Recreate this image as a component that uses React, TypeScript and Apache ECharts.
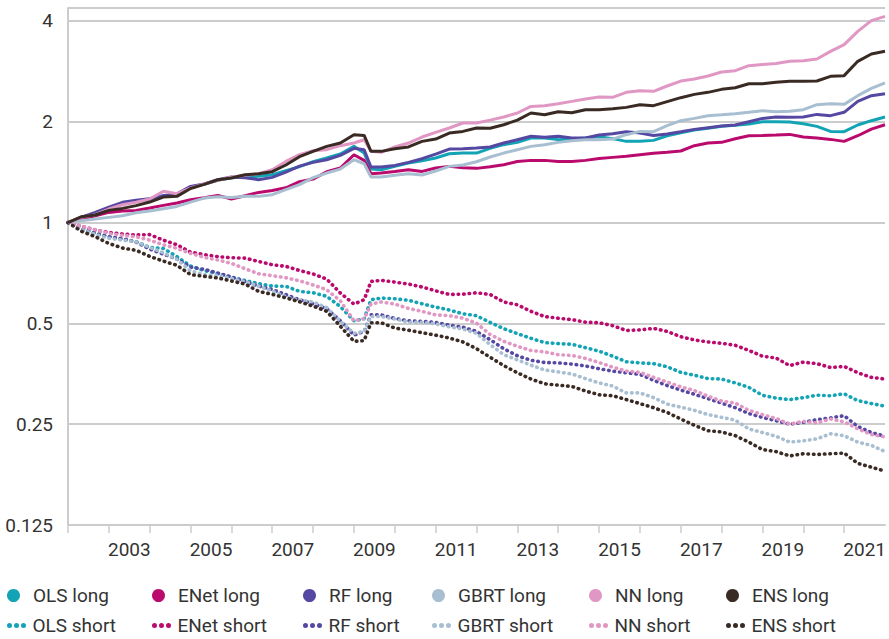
import React, { useEffect, useRef } from "react";
import * as echarts from "echarts";

// Months since Jan 2002 (shared time grid)
const months = [
  0, 4, 8, 12, 16, 20, 24, 28, 32, 36, 40, 44, 48, 52, 56, 60, 64, 68, 72, 76, 80, 84, 87, 89,
  92, 96, 100, 104, 108, 112, 116, 120, 124, 128, 132, 136, 140, 144, 148, 152, 156, 160, 164,
  168, 172, 176, 180, 184, 188, 192, 196, 200, 204, 208, 212, 216, 220, 224, 228, 232, 236, 240,
];

const olsLong = [
  1.0, 1.034, 1.062, 1.102, 1.135, 1.157, 1.175, 1.202, 1.213, 1.276, 1.3, 1.336, 1.361, 1.367, 1.374, 1.389, 1.428, 1.468, 1.519, 1.558, 1.601, 1.688,
  1.612, 1.444,
  1.438, 1.471, 1.505, 1.529, 1.558, 1.605, 1.612, 1.612, 1.665, 1.708, 1.735, 1.788, 1.788, 1.768, 1.775, 1.788, 1.804, 1.78, 1.747, 1.747, 1.759, 1.816, 1.854, 1.888, 1.911, 1.937, 1.951, 1.968, 2.0, 2.0, 1.996, 1.972, 1.937, 1.871, 1.867, 1.955, 2.014, 2.065,
];
const enetLong = [
  1.0, 1.024, 1.048, 1.072, 1.082, 1.087, 1.105, 1.125, 1.143, 1.17, 1.186, 1.205, 1.175, 1.202, 1.23, 1.247, 1.27, 1.324, 1.348, 1.418, 1.454, 1.594,
  1.533, 1.399,
  1.405, 1.421, 1.438, 1.421, 1.454, 1.471, 1.458, 1.451, 1.468, 1.488, 1.522, 1.533, 1.533, 1.522, 1.522, 1.533, 1.554, 1.565, 1.576, 1.594, 1.609, 1.62, 1.635, 1.696, 1.727, 1.735, 1.779, 1.816, 1.82, 1.825, 1.833, 1.8, 1.788, 1.771, 1.747, 1.816, 1.901, 1.959,
];
const rfLong = [
  1.0, 1.038, 1.072, 1.112, 1.149, 1.165, 1.178, 1.202, 1.219, 1.282, 1.303, 1.342, 1.367, 1.361, 1.342, 1.364, 1.415, 1.474, 1.512, 1.54, 1.587, 1.665,
  1.65, 1.464,
  1.464, 1.481, 1.512, 1.551, 1.601, 1.657, 1.661, 1.669, 1.681, 1.727, 1.767, 1.809, 1.796, 1.809, 1.788, 1.788, 1.825, 1.842, 1.867, 1.85, 1.82, 1.838, 1.867, 1.897, 1.919, 1.941, 1.955, 2.0, 2.046, 2.065, 2.061, 2.065, 2.103, 2.085, 2.133, 2.3, 2.392, 2.425,
];
const gbrtLong = [
  1.0, 1.013, 1.024, 1.036, 1.048, 1.069, 1.082, 1.1, 1.117, 1.151, 1.183, 1.194, 1.188, 1.197, 1.197, 1.211, 1.253, 1.297, 1.361, 1.405, 1.444, 1.54,
  1.498, 1.367,
  1.367, 1.383, 1.399, 1.386, 1.425, 1.471, 1.485, 1.519, 1.569, 1.612, 1.65, 1.688, 1.708, 1.735, 1.754, 1.767, 1.767, 1.775, 1.829, 1.871, 1.867, 1.946, 2.014, 2.046, 2.084, 2.098, 2.113, 2.133, 2.157, 2.142, 2.148, 2.172, 2.248, 2.264, 2.253, 2.392, 2.515, 2.61,
];
const nnLong = [
  1.0, 1.036, 1.055, 1.097, 1.13, 1.149, 1.175, 1.239, 1.219, 1.268, 1.303, 1.336, 1.367, 1.383, 1.399, 1.438, 1.522, 1.594, 1.638, 1.65, 1.696, 1.727,
  1.767, 1.631,
  1.62, 1.681, 1.727, 1.8, 1.858, 1.915, 1.982, 1.982, 2.022, 2.065, 2.123, 2.222, 2.233, 2.263, 2.3, 2.338, 2.37, 2.364, 2.447, 2.476, 2.464, 2.556, 2.645, 2.682, 2.738, 2.815, 2.84, 2.94, 2.961, 2.982, 3.029, 3.043, 3.078, 3.244, 3.396, 3.722, 4.006, 4.127,
];
const ensLong = [
  1.0, 1.041, 1.053, 1.087, 1.102, 1.123, 1.151, 1.191, 1.197, 1.264, 1.3, 1.342, 1.358, 1.389, 1.399, 1.418, 1.485, 1.572, 1.631, 1.688, 1.727, 1.829,
  1.82, 1.631,
  1.631, 1.661, 1.681, 1.747, 1.775, 1.85, 1.871, 1.915, 1.911, 1.959, 2.022, 2.123, 2.098, 2.142, 2.127, 2.172, 2.172, 2.187, 2.207, 2.248, 2.233, 2.296, 2.359, 2.413, 2.447, 2.498, 2.526, 2.597, 2.597, 2.621, 2.639, 2.639, 2.645, 2.732, 2.745, 3.029, 3.186, 3.244,
];

const olsShort = [
  1.0, 0.958, 0.93, 0.907, 0.891, 0.876, 0.843, 0.837, 0.791, 0.741, 0.719, 0.703, 0.686, 0.671, 0.657, 0.646, 0.645, 0.623, 0.617, 0.602, 0.561, 0.509,
  0.516, 0.588,
  0.595, 0.592, 0.586, 0.572, 0.559, 0.548, 0.534, 0.527, 0.503, 0.482, 0.466, 0.451, 0.438, 0.435, 0.433, 0.423, 0.413, 0.399, 0.384, 0.381, 0.379, 0.371, 0.357, 0.35, 0.342, 0.341, 0.332, 0.322, 0.305, 0.299, 0.296, 0.3, 0.305, 0.304, 0.308, 0.294, 0.288, 0.283,
];
const enetShort = [
  1.0, 0.974, 0.95, 0.934, 0.924, 0.918, 0.92, 0.886, 0.858, 0.816, 0.802, 0.791, 0.785, 0.783, 0.765, 0.748, 0.74, 0.719, 0.702, 0.678, 0.616, 0.571,
  0.588, 0.667,
  0.672, 0.664, 0.655, 0.642, 0.625, 0.61, 0.611, 0.617, 0.61, 0.579, 0.568, 0.543, 0.524, 0.518, 0.513, 0.504, 0.502, 0.492, 0.476, 0.478, 0.483, 0.473, 0.456, 0.446, 0.44, 0.436, 0.43, 0.415, 0.399, 0.394, 0.374, 0.383, 0.379, 0.369, 0.372, 0.356, 0.345, 0.341,
];
const rfShort = [
  1.0, 0.954, 0.926, 0.907, 0.895, 0.874, 0.833, 0.805, 0.778, 0.736, 0.725, 0.706, 0.688, 0.667, 0.646, 0.631, 0.609, 0.588, 0.572, 0.553, 0.509, 0.461,
  0.473, 0.53,
  0.53, 0.517, 0.509, 0.507, 0.503, 0.494, 0.487, 0.473, 0.447, 0.42, 0.4, 0.388, 0.382, 0.381, 0.378, 0.373, 0.366, 0.36, 0.356, 0.352, 0.338, 0.326, 0.316, 0.307, 0.298, 0.289, 0.28, 0.269, 0.262, 0.256, 0.25, 0.253, 0.258, 0.261, 0.265, 0.246, 0.236, 0.23,
];
const gbrtShort = [
  1.0, 0.952, 0.922, 0.897, 0.886, 0.876, 0.843, 0.812, 0.776, 0.718, 0.698, 0.695, 0.68, 0.666, 0.646, 0.624, 0.6, 0.587, 0.579, 0.557, 0.507, 0.467,
  0.473, 0.524,
  0.524, 0.515, 0.504, 0.504, 0.498, 0.488, 0.481, 0.467, 0.432, 0.403, 0.389, 0.375, 0.363, 0.358, 0.353, 0.342, 0.332, 0.325, 0.31, 0.31, 0.3, 0.287, 0.281, 0.275, 0.267, 0.262, 0.257, 0.242, 0.236, 0.23, 0.221, 0.223, 0.226, 0.234, 0.231, 0.221, 0.216, 0.207,
];
const nnShort = [
  1.0, 0.974, 0.952, 0.928, 0.915, 0.907, 0.886, 0.858, 0.837, 0.809, 0.787, 0.773, 0.755, 0.728, 0.703, 0.694, 0.684, 0.67, 0.651, 0.63, 0.584, 0.509,
  0.516, 0.571,
  0.579, 0.571, 0.554, 0.543, 0.53, 0.527, 0.518, 0.501, 0.463, 0.442, 0.427, 0.415, 0.411, 0.403, 0.401, 0.393, 0.382, 0.37, 0.36, 0.357, 0.345, 0.334, 0.323, 0.315, 0.303, 0.293, 0.289, 0.275, 0.267, 0.26, 0.25, 0.255, 0.252, 0.259, 0.254, 0.242, 0.233, 0.229,
];
const ensShort = [
  1.0, 0.941, 0.907, 0.866, 0.839, 0.826, 0.792, 0.767, 0.745, 0.699, 0.691, 0.683, 0.669, 0.655, 0.623, 0.61, 0.596, 0.58, 0.563, 0.543, 0.49, 0.442,
  0.444, 0.502,
  0.502, 0.484, 0.477, 0.469, 0.461, 0.452, 0.44, 0.42, 0.396, 0.374, 0.356, 0.341, 0.33, 0.327, 0.324, 0.314, 0.306, 0.304, 0.296, 0.288, 0.28, 0.271, 0.259, 0.248, 0.239, 0.237, 0.231, 0.221, 0.21, 0.207, 0.201, 0.204, 0.203, 0.204, 0.205, 0.191, 0.186, 0.181,
];

const yTickLabels = ["0.125", "0.25", "0.5", "1", "2", "4"];

const seriesNames = [
  "OLS long", "ENet long", "RF long", "GBRT long", "NN long", "ENS long",
  "OLS short", "ENet short", "RF short", "GBRT short", "NN short", "ENS short",
];
const seriesValues = [
  olsLong, enetLong, rfLong, gbrtLong, nnLong, ensLong,
  olsShort, enetShort, rfShort, gbrtShort, nnShort, ensShort,
];
const colors = ["#12a3b5", "#bb0a6d", "#5548a3", "#a8bed1", "#e197c3", "#3a2a24"];

const FONT = "Roboto, 'Noto Sans', sans-serif";
const FS = 19;
const TEXT = "#333333";
const GRID = "#cccccc";

const DOTS =
  "path://M0,2.5a2.5,2.5 0 1,0 5,0a2.5,2.5 0 1,0 -5,0M7,2.5a2.5,2.5 0 1,0 5,0a2.5,2.5 0 1,0 -5,0M14,2.5a2.5,2.5 0 1,0 5,0a2.5,2.5 0 1,0 -5,0";

const legendTextStarts = [33, 178, 329, 458, 615, 752];

export default function App() {
  const ref = useRef<HTMLDivElement>(null);

  useEffect(() => {
    if (!ref.current) return;
    const chart = echarts.init(ref.current, null, { renderer: "svg" });

    const series = seriesNames.map((name, i) => {
      const isShort = i >= 6;
      const color = colors[i % 6];
      return {
        name,
        type: "line",
        showSymbol: false,
        symbol: "none",
        color,
        data: months.map((m, k) => [2002 + m / 12, seriesValues[i][k]]),
        lineStyle: isShort
          ? { color, width: 3.6, type: [0.5, 5.0], cap: "round" }
          : { color, width: 3 },
        z: isShort ? 2 : 3,
      };
    });

    const legends = seriesNames.map((name, i) => {
      const isShort = i >= 6;
      const col = i % 6;
      const color = colors[col];
      return {
        data: [name],
        left: legendTextStarts[col] - 26,
        top: isShort ? 616 : 586,
        padding: 0,
        icon: isShort ? DOTS : "circle",
        itemWidth: isShort ? 20 : 13,
        itemHeight: isShort ? 5 : 13,
        itemStyle: { color, borderWidth: 0 },
        textStyle: {
          color: TEXT,
          fontFamily: FONT,
          fontSize: FS,
          padding: isShort ? [0, 0, 0, 1] : [0, 0, 0, 8],
        },
        selectedMode: false,
      };
    });

    const option: any = {
      animation: false,
      backgroundColor: "#ffffff",
      grid: { left: 68, right: 0, top: 8, bottom: 114, containLabel: false },
      legend: legends,
      xAxis: {
        type: "value",
        min: 2002,
        max: 2022,
        interval: 1,
        axisLine: { show: true, lineStyle: { color: GRID, width: 2 } },
        axisTick: { show: true, length: 8, lineStyle: { color: GRID, width: 1.5 } },
        splitLine: { show: false },
        axisLabel: {
          color: TEXT,
          fontFamily: FONT,
          fontSize: FS,
          margin: 15,
          padding: [0, 0, 0, 41],
          showMaxLabel: false,
          formatter: (v: number) => {
            const y = Math.round(v);
            return y % 2 === 1 && y < 2022 ? String(y) : "";
          },
        },
      },
      yAxis: {
        type: "log",
        logBase: 2,
        min: 0.125,
        max: 4.37,
        axisLine: { show: true, lineStyle: { color: GRID, width: 2 } },
        axisTick: { show: false },
        splitLine: { show: true, lineStyle: { color: GRID, width: 2 } },
        axisLabel: {
          color: TEXT,
          fontFamily: FONT,
          fontSize: FS,
          margin: 15,
          showMaxLabel: false,
          formatter: (v: number) => {
            const e = Math.round(Math.log2(v));
            const idx = e + 3;
            if (Math.abs(Math.log2(v) - e) > 1e-6 || idx < 0 || idx >= yTickLabels.length) return "";
            return yTickLabels[idx];
          },
        },
      },
      series,
    };

    chart.setOption(option);
    return () => chart.dispose();
  }, []);

  return (
    <div
      ref={ref}
      style={{ position: "absolute", left: 0, top: 0, width: 889, height: 639 }}
    />
  );
}
